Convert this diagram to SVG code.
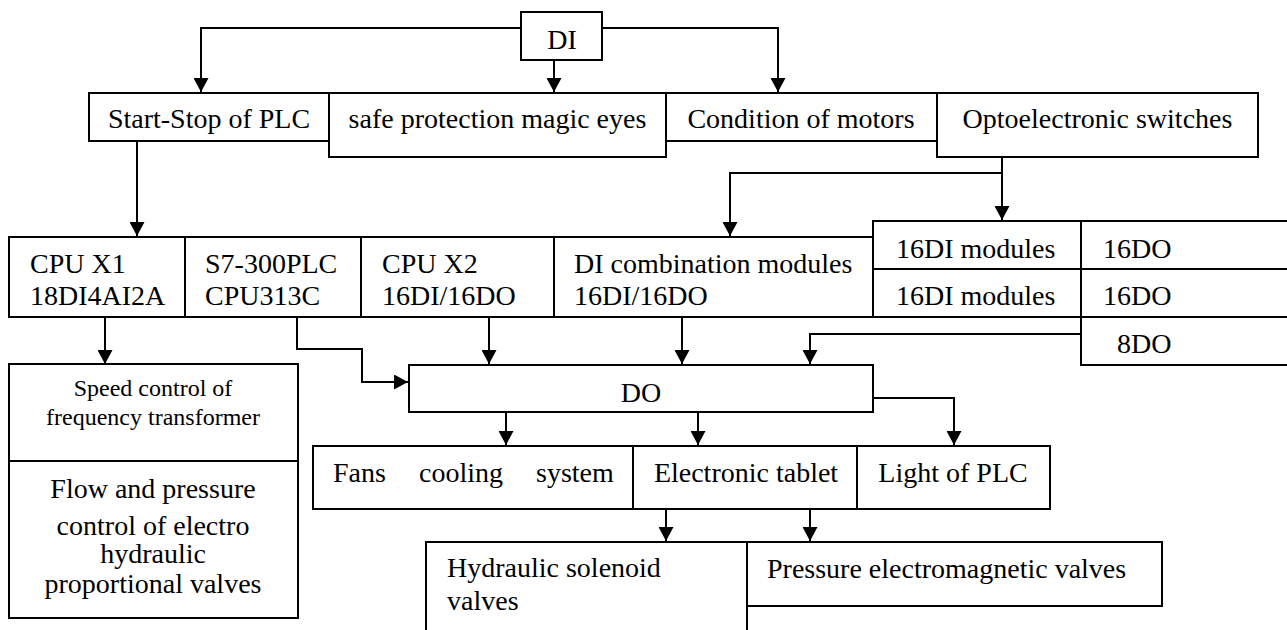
<svg xmlns="http://www.w3.org/2000/svg" width="1287" height="630" viewBox="0 0 1287 630">
<style>
.b{fill:#fff;stroke:#000;stroke-width:2}
.t{font-family:"Liberation Serif","Times New Roman",serif;font-size:28px;fill:#000}
.s{font-family:"Liberation Serif","Times New Roman",serif;font-size:24px;fill:#000}
.c{fill:none;stroke:#000;stroke-width:2}
.m{text-anchor:middle}
</style>
<defs>
<marker id="ah" markerUnits="userSpaceOnUse" markerWidth="14" markerHeight="15" refX="14" refY="7.5" orient="auto">
<path d="M0,0 L14,7.5 L0,15 z" fill="#000"/>
</marker>
</defs>
<rect width="1287" height="630" fill="#fff"/>

<g id="connectors">
<path class="c" d="M521,28 H201 V92" marker-end="url(#ah)"/>
<path class="c" d="M554,60 V92" marker-end="url(#ah)"/>
<path class="c" d="M602,28 H778 V92" marker-end="url(#ah)"/>
<path class="c" d="M137,141 V236" marker-end="url(#ah)"/>
<path class="c" d="M1002,157 V220" marker-end="url(#ah)"/>
<path class="c" d="M1002,173 H730 V236" marker-end="url(#ah)"/>
<path class="c" d="M105,317 V364" marker-end="url(#ah)"/>
<path class="c" d="M297,317 V349 H362 V382 H408" marker-end="url(#ah)"/>
<path class="c" d="M489,317 V364" marker-end="url(#ah)"/>
<path class="c" d="M682,317 V364" marker-end="url(#ah)"/>
<path class="c" d="M1081,334 H810 V364" marker-end="url(#ah)"/>
<path class="c" d="M506,412 V445" marker-end="url(#ah)"/>
<path class="c" d="M698,412 V445" marker-end="url(#ah)"/>
<path class="c" d="M873,398 H954 V445" marker-end="url(#ah)"/>
<path class="c" d="M666,509 V541" marker-end="url(#ah)"/>
<path class="c" d="M810,509 V541" marker-end="url(#ah)"/>
</g>

<g id="n-di"><rect class="b" x="521" y="12" width="81" height="48"/><text class="t m" x="562" y="49">DI</text></g>

<g id="n-startstop"><rect class="b" x="89" y="93" width="240" height="48"/><text class="t m" x="209" y="128">Start-Stop of PLC</text></g>
<g id="n-safe"><rect class="b" x="329" y="93" width="337" height="64"/><text class="t m" x="497.5" y="128">safe protection magic eyes</text></g>
<g id="n-motors"><rect class="b" x="666" y="93" width="271" height="48"/><text class="t m" x="801" y="128">Condition of motors</text></g>
<g id="n-opto"><rect class="b" x="937" y="93" width="321" height="64"/><text class="t m" x="1097.5" y="128">Optoelectronic switches</text></g>

<g id="n-cpux1"><rect class="b" x="9" y="237" width="176" height="80"/><text class="t" x="30" y="273">CPU X1</text><text class="t" x="30" y="305">18DI4AI2A</text></g>
<g id="n-s7"><rect class="b" x="185" y="237" width="176" height="80"/><text class="t" x="205" y="273">S7-300PLC</text><text class="t" x="205" y="305">CPU313C</text></g>
<g id="n-cpux2"><rect class="b" x="361" y="237" width="193" height="80"/><text class="t" x="382" y="273">CPU X2</text><text class="t" x="382" y="305">16DI/16DO</text></g>
<g id="n-dicomb"><rect class="b" x="554" y="237" width="319" height="80"/><text class="t" x="574" y="273">DI combination modules</text><text class="t" x="574" y="305">16DI/16DO</text></g>

<g id="n-16di-1"><rect class="b" x="873" y="221" width="208" height="48"/><text class="t" x="896" y="258">16DI modules</text></g>
<g id="n-16do-1"><rect class="b" x="1081" y="221" width="230" height="48"/><text class="t" x="1103" y="258">16DO</text></g>
<g id="n-16di-2"><rect class="b" x="873" y="269" width="208" height="48"/><text class="t" x="896" y="305">16DI modules</text></g>
<g id="n-16do-2"><rect class="b" x="1081" y="269" width="230" height="48"/><text class="t" x="1103" y="305">16DO</text></g>
<g id="n-8do"><rect class="b" x="1081" y="317" width="230" height="48"/><text class="t" x="1117" y="353">8DO</text></g>

<g id="n-speed"><rect class="b" x="9" y="364" width="289" height="97"/><text class="s m" x="153" y="396">Speed control of</text><text class="s m" x="153" y="425">frequency transformer</text></g>
<g id="n-flow"><rect class="b" x="9" y="461" width="289" height="157"/><text class="t m" x="153" y="498">Flow and pressure</text><text class="t m" x="153" y="535">control of electro</text><text class="t m" x="153" y="563">hydraulic</text><text class="t m" x="153" y="593">proportional valves</text></g>

<g id="n-do"><rect class="b" x="409" y="365" width="464" height="47"/><text class="t m" x="641" y="402">DO</text></g>

<g id="n-fans"><rect class="b" x="313" y="446" width="320" height="63"/><text class="t" x="333" y="482">Fans</text><text class="t" x="419" y="482">cooling</text><text class="t" x="536" y="482">system</text></g>
<g id="n-tablet"><rect class="b" x="633" y="446" width="224" height="63"/><text class="t m" x="746" y="482">Electronic tablet</text></g>
<g id="n-light"><rect class="b" x="857" y="446" width="193" height="63"/><text class="t m" x="953" y="482">Light of PLC</text></g>

<g id="n-hydraulic"><rect class="b" x="426" y="542" width="321" height="100"/><text class="t" x="447" y="577">Hydraulic solenoid</text><text class="t" x="447" y="610">valves</text></g>
<g id="n-pressure"><rect class="b" x="747" y="542" width="415" height="64"/><text class="t" x="767" y="578">Pressure electromagnetic valves</text></g>
</svg>
